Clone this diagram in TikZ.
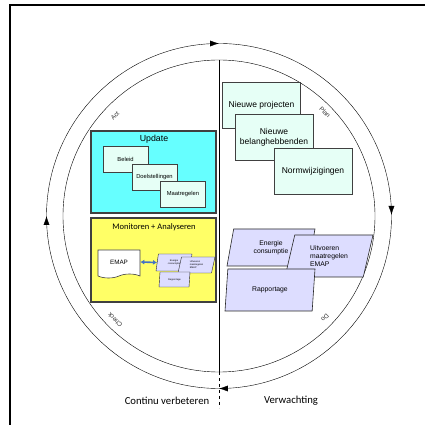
\documentclass[tikz,border=0pt]{standalone}
\usepackage{fontspec}
\setmainfont{Liberation Sans}
\newfontfamily\calibri{Carlito}
\usepackage{tikz}
\usetikzlibrary{shapes,shapes.geometric,shapes.symbols,arrows,arrows.meta,positioning,decorations.markings}

\definecolor{updcyan}{HTML}{66FFFF}
\definecolor{mint}{HTML}{E6FFF6}
\definecolor{monyellow}{HTML}{FFFF66}
\definecolor{lavender}{HTML}{DDDDFF}
\definecolor{edge}{HTML}{404040}
\definecolor{emapblue}{HTML}{4472C4}

\begin{document}
\begin{tikzpicture}[
        x=1pt, y=1pt,
        panel/.style={rectangle, draw=edge, line width=1.2pt, minimum width=125},
        card/.style={rectangle, draw=edge, fill=mint, line width=0.8pt, align=center, minimum width=78, minimum height=46, font=\fontsize{8.5}{10}\selectfont},
        minicard/.style={card, minimum width=45, minimum height=26, font=\fontsize{5.8}{7}\selectfont},
        para/.style={trapezium, trapezium left angle=65, trapezium right angle=115, trapezium stretches body, draw=black!85, fill=lavender, line width=0.6pt, align=center, inner sep=0pt, minimum width=88, minimum height=37, font=\fontsize{6.8}{8}\selectfont},
        minipara/.style={para, line width=0.4pt, minimum width=36, minimum height=17, font=\fontsize{2.4}{2.9}\selectfont},
        doc/.style={tape, tape bend top=none, tape bend height=4pt, draw=edge, fill=white, line width=0.6pt, minimum width=42, minimum height=28, font=\fontsize{6.3}{7}\selectfont},
        phase/.style={font=\fontsize{6.3}{7}\selectfont, text=black!80, inner sep=1pt},
        title/.style={font=\fontsize{8.8}{10}\selectfont},
        bottomlabel/.style={font=\calibri\fontsize{10.7}{12}\selectfont},
        pdca/.style={postaction={decorate}, decoration={markings,
            mark=at position 0.25 with {\arrow{Latex[length=9pt,width=6pt]}},
            mark=at position 0.5 with {\arrow{Latex[length=9pt,width=6pt]}},
            mark=at position 0.75 with {\arrow{Latex[length=9pt,width=6pt]}},
            mark=at position 0.999 with {\arrow{Latex[length=9pt,width=6pt]}}}},
        emaparrow/.style={{Latex[length=4pt,width=5pt]}-{Latex[length=4pt,width=5pt]}, draw=emapblue, line width=1.6pt}
      ]
        \useasboundingbox (0,0) rectangle (425,425);

        % Frame
        \draw[line width=2pt] (425,420) -- (10,420) -- (10,0);

        % Cycle (clockwise)
        \coordinate (c) at (219,209);
        \draw[pdca] (c) ++(0:172.5) arc[start angle=0, end angle=-360, radius=172.5];
        \draw (c) circle[radius=156];
        \coordinate (dtop) at (219,365);
        \coordinate (dmid) at (219,53);
        \coordinate (dbot) at (219,17);
        \draw (dtop) -- (dmid);
        \draw[dashed] (dmid) -- (dbot);

        % Phase labels
        \node[phase, rotate=45] (act) at (115,309) {Act};
        \node[phase, rotate=-45] (plan) at (325,313) {Plan};
        \node[phase, rotate=-135] (do) at (325,107) {Do};
        \node[phase, rotate=135] (check) at (115,105) {Check};

        % Act: update
        \node[panel, fill=updcyan, minimum height=82] (update) at (153.5,253) {};
        \node[title] (updtitle) at (154,286) {Update};
        \node[minicard] (beleid) at (125.5,266) {Beleid};
        \node[minicard] (doelen) at (154.5,247.5) {Doelstellingen};
        \node[minicard] (maatregelen) at (183,231) {Maatregelen};

        % Check: monitoring
        \node[panel, fill=monyellow, minimum height=84] (monitor) at (153.5,165) {};
        \node[title, font=\calibri\fontsize{8.5}{10}\selectfont] (montitle) at (154,198) {Monitoren + Analyseren};
        \node[doc] (emap) at (119,163) {EMAP};
        \node[minipara] (sEnergie) at (174,162.5) {Energie\\consumptie};
        \node[minipara, align=left, minimum width=37, minimum height=16] (sUitvoeren) at (196.5,160) {Uitvoeren\\maatregelen\\EMAP};
        \node[minipara, minimum width=31, minimum height=15] (sRapportage) at (174.5,145.5) {Rapportage};
        \draw[emaparrow] (emap.east) -- (sEnergie.west);

        % Plan
        \node[card] (projecten) at (261.5,319.5) {Nieuwe projecten};
        \node[card] (belang) at (274,288) {Nieuwe\\belanghebbenden};
        \node[card] (norm) at (313,254) {Normwijzigingen};

        % Do
        \node[para] (energie) at (271,177.5) {Energie\\consumptie};
        \node[para, align=left, minimum height=42] (uitvoeren) at (329,169) {Uitvoeren\\maatregelen\\EMAP};
        \node[para, minimum width=90, minimum height=42] (rapportage) at (270,135) {Rapportage};

        % Bottom labels
        \node[bottomlabel] (continu) at (167,24) {Continu verbeteren};
        \node[bottomlabel] (verwachting) at (291,24) {Verwachting};
      \end{tikzpicture}
\end{document}
